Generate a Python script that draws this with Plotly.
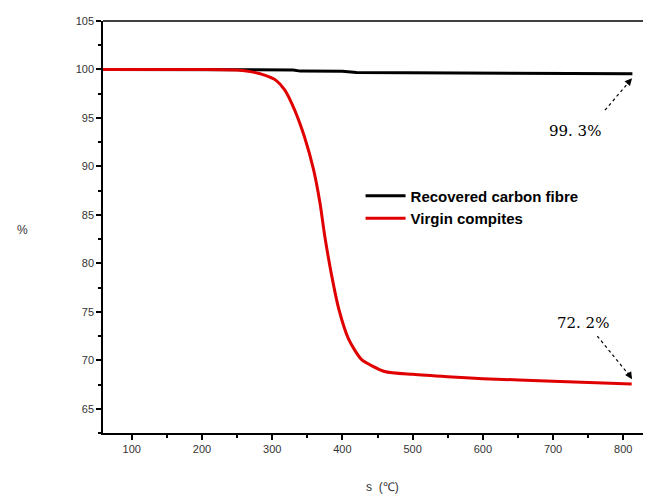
import plotly.graph_objects as go

# Recovered carbon fibre (temperature in degC, mass %)
rcf_temp = [59, 100, 200, 300, 330, 340, 400, 420, 500, 600, 700, 750, 813]
rcf_mass = [100.0, 100.0, 100.0, 99.98, 99.95, 99.83, 99.82, 99.68, 99.65, 99.62, 99.6, 99.58, 99.55]

# Virgin composite
vc_temp = [59, 150, 200, 250, 271, 290, 305, 318, 332, 346, 359, 368, 375, 385, 395, 409, 427, 460, 500, 550, 600, 700, 812]
vc_mass = [100.0, 100.0, 100.0, 99.95, 99.75, 99.4, 98.9, 97.87, 95.81, 93.03, 89.64, 86.24, 82.75, 78.63, 75.24,
           72.15, 70.1, 68.85, 68.55, 68.3, 68.1, 67.85, 67.55]

series_names = ["Recovered carbon fibre", "Virgin compites"]
x_ticks = [100, 200, 300, 400, 500, 600, 700, 800]
y_ticks = [65, 70, 75, 80, 85, 90, 95, 100, 105]
labels = ["99. 3%", "72. 2%"]

fig = go.Figure()
fig.add_trace(go.Scatter(x=rcf_temp, y=rcf_mass, mode="lines", name=series_names[0],
                         line=dict(color="#000000", width=3)))
fig.add_trace(go.Scatter(x=vc_temp, y=vc_mass, mode="lines", name=series_names[1],
                         line=dict(color="#e00000", width=3, shape="spline", smoothing=0.6)))

axis_font = dict(family="Liberation Sans, Arial", size=11, color="#333")

fig.update_layout(
    width=651, height=496,
    margin=dict(l=95, r=8, t=13, b=71),
    paper_bgcolor="white", plot_bgcolor="white",
    showlegend=True,
    legend=dict(x=0.47, y=0.615, xanchor="left", yanchor="top",
                font=dict(family="Liberation Sans, Arial", size=15, color="black", weight="bold"),
                bgcolor="rgba(0,0,0,0)", tracegroupgap=0, itemwidth=40),
    xaxis=dict(range=[59, 839.5], tickvals=x_ticks, ticks="outside", ticklen=5, tickwidth=1.5,
               tickcolor="black", showline=True, linecolor="black", linewidth=1.5,
               showgrid=False, zeroline=False, tickfont=axis_font,
               minor=dict(dtick=50, tick0=0, ticks="outside", ticklen=3, tickcolor="black")),
    yaxis=dict(range=[62.5, 105], tickvals=y_ticks, ticks="outside", ticklen=5, tickwidth=1.5,
               tickcolor="black", showline=True, linecolor="black", linewidth=1.5,
               showgrid=False, zeroline=False, tickfont=axis_font,
               minor=dict(dtick=2.5, tick0=0, ticks="outside", ticklen=3, tickcolor="black")),
)

# top frame line
fig.add_shape(type="line", xref="paper", yref="paper", x0=0, x1=1, y0=1, y1=1,
              line=dict(color="black", width=1.5))

# axis titles
fig.add_annotation(text="%", xref="paper", yref="paper", x=-0.16, y=0.493, showarrow=False,
                   font=dict(family="Liberation Sans, Arial", size=12, color="#333"))
fig.add_annotation(text="s  (℃)", xref="paper", yref="paper", x=0.51, y=-0.13, yanchor="middle",
                   showarrow=False, font=dict(family="Liberation Sans, Arial", size=12, color="#333"))

# dashed leader lines and arrowheads
fig.add_shape(type="line", x0=774, y0=95.8, x1=808, y1=98.7, line=dict(color="black", width=1.2, dash="dot"))
fig.add_shape(type="line", x0=763, y0=72.5, x1=808, y1=68.5, line=dict(color="black", width=1.2, dash="dot"))
fig.add_annotation(x=812.5, y=99.1, ax=804, ay=98.4, axref="x", ayref="y", showarrow=True,
                   arrowhead=2, arrowsize=1.2, arrowwidth=1.2, arrowcolor="black", text="")
fig.add_annotation(x=812.5, y=68.05, ax=805, ay=68.9, axref="x", ayref="y", showarrow=True,
                   arrowhead=2, arrowsize=1.2, arrowwidth=1.2, arrowcolor="black", text="")

# value labels
fig.add_annotation(x=731, y=93.7, text=labels[0], showarrow=False,
                   font=dict(family="DejaVu Serif, Liberation Serif", size=15, color="black"))
fig.add_annotation(x=742, y=73.8, text=labels[1], showarrow=False,
                   font=dict(family="DejaVu Serif, Liberation Serif", size=15, color="black"))

fig.write_html("out.html")
